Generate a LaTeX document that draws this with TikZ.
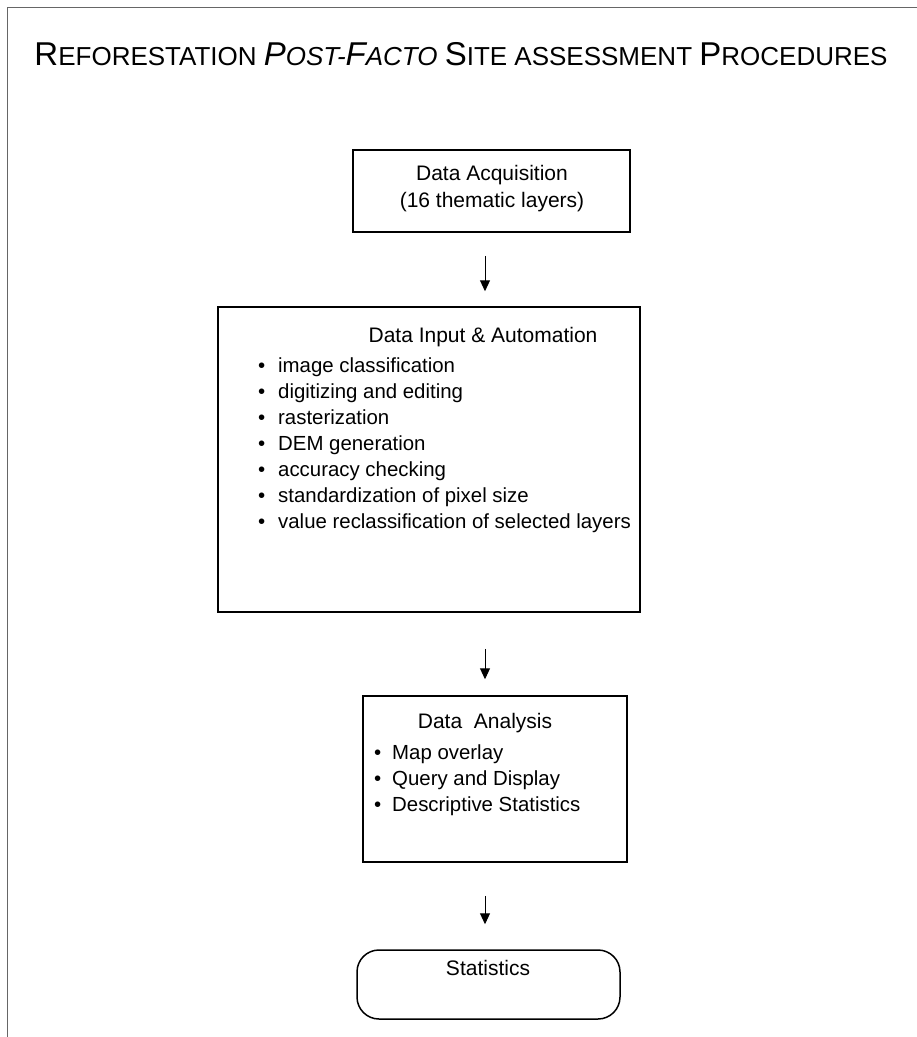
\documentclass[tikz,border=0pt]{standalone}
\usepackage{fontspec}
\setmainfont{Liberation Sans}
\usetikzlibrary{arrows.meta}

% title lettering: large initials, small capitals for the rest
\newcommand\TitleBig[1]{{\fontsize{33}{36}\selectfont #1}}
\newcommand\TitleSmall[1]{{\fontsize{26}{30}\selectfont #1}}

\begin{document}
\begin{tikzpicture}[x=1pt,y=-1pt,
  frameline/.style={draw=black!60,line width=1pt},
  stepbox/.style={draw=black,line width=1.5pt,inner sep=0pt,rectangle},
  endbox/.style={stepbox,rounded corners=22pt},
  boxtext/.style={font=\fontsize{21}{27}\selectfont,align=center,inner sep=0pt},
  listtext/.style={font=\fontsize{20.4}{26}\selectfont,align=left,inner sep=0pt,anchor=west},
  flow/.style={draw=black,line width=1pt,-{Triangle[width=10pt,length=11pt]}}
]
\useasboundingbox (0,0) rectangle (917,1037);

% page frame (left and top edges)
\draw[frameline] (7,1037) -- (7,7) -- (917,7);

% heading
\node[inner sep=0pt,font=\fontsize{26}{30}\selectfont] (title) at (461,54)
  {\TitleBig{R}\TitleSmall{EFORESTATION} {\itshape\TitleBig{P}\TitleSmall{OST-}\TitleBig{F}\TitleSmall{ACTO}} \TitleBig{S}\TitleSmall{ITE ASSESSMENT} \TitleBig{P}\TitleSmall{ROCEDURES}};

% step 1
\node[stepbox,minimum width=277pt,minimum height=82pt] (acq) at (491.5,191) {};
\node[boxtext] (acqtext) at (492,189) {Data Acquisition\\(16 thematic layers)};

% step 2
\node[stepbox,minimum width=422pt,minimum height=305pt] (input) at (429,459.5) {};
\node[boxtext] (inputtitle) at (483,337) {Data Input \& Automation};
\node[listtext] (inputlist) at (258,445) {%
  \makebox[20pt][l]{•}image classification\\
  \makebox[20pt][l]{•}digitizing and editing\\
  \makebox[20pt][l]{•}rasterization\\
  \makebox[20pt][l]{•}DEM generation\\
  \makebox[20pt][l]{•}accuracy checking\\
  \makebox[20pt][l]{•}standardization of pixel size\\
  \makebox[20pt][l]{•}value reclassification of selected layers};

% step 3
\node[stepbox,minimum width=264pt,minimum height=166pt] (analysis) at (495,779) {};
\node[boxtext] (analysistitle) at (485,723) {Data~~Analysis};
\node[listtext] (analysislist) at (374,780) {%
  \makebox[18pt][l]{•}Map overlay\\
  \makebox[18pt][l]{•}Query and Display\\
  \makebox[18pt][l]{•}Descriptive Statistics};

% result
\node[endbox,minimum width=263pt,minimum height=69pt] (stats) at (488.5,984.5) {};
\node[boxtext] (statstext) at (488,968) {Statistics};

% connectors
\coordinate (axis) at (485,0);
\draw[flow,shorten <=23pt,shorten >=15pt] (acq.south -| axis) -- (input.north -| axis);
\draw[flow,shorten <=36pt,shorten >=16pt] (input.south -| axis) -- (analysis.north -| axis);
\draw[flow,shorten <=33pt,shorten >=25pt] (analysis.south -| axis) -- (stats.north -| axis);
\end{tikzpicture}
\end{document}
